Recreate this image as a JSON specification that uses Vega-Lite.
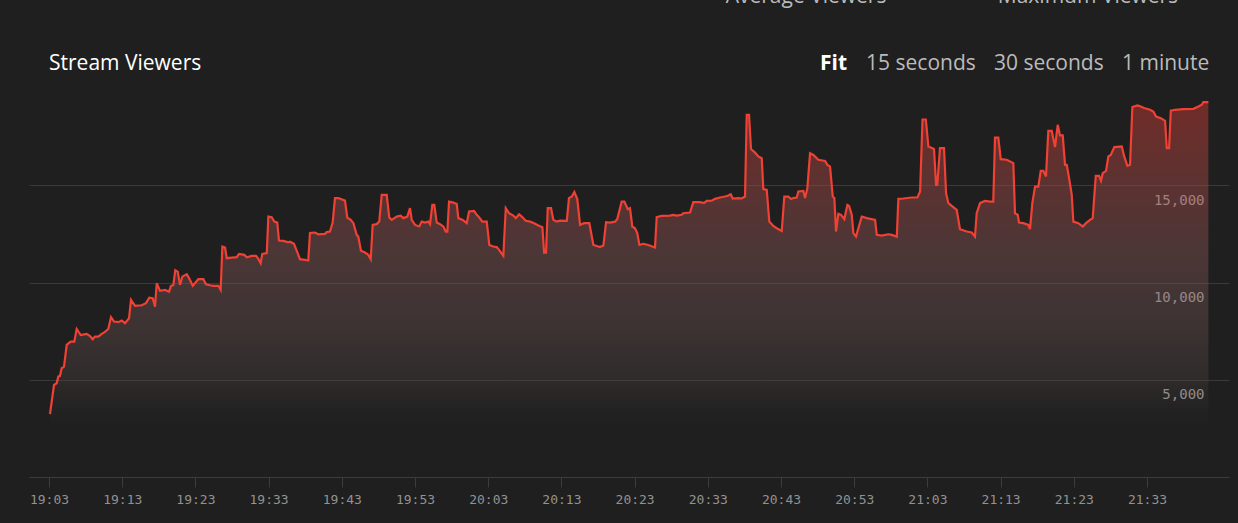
{
  "$schema": "https://vega.github.io/schema/vega-lite/v6.json",
  "width": 1200,
  "height": 389,
  "autosize": {"type": "none"},
  "padding": {"left": 29, "top": 88, "right": 9, "bottom": 46},
  "background": "#1f1f1f",
  "config": {"view": {"stroke": null}},
  "data": {
    "format": {"parse": {"t": "date:'%H:%M:%S'"}},
    "values": [
      {"t":"19:03:08","v":3230},{"t":"19:03:41","v":4730},{"t":"19:04:03","v":4820},{"t":"19:04:16","v":5160},{"t":"19:04:30","v":5200},{"t":"19:04:44","v":5590},{"t":"19:05:03","v":5670},{"t":"19:05:25","v":6790},{"t":"19:05:58","v":6960},{"t":"19:06:27","v":6960},
      {"t":"19:06:47","v":7610},{"t":"19:07:20","v":7300},{"t":"19:08:09","v":7360},{"t":"19:08:36","v":7250},{"t":"19:08:58","v":7080},{"t":"19:09:17","v":7220},{"t":"19:09:44","v":7220},{"t":"19:10:12","v":7360},{"t":"19:10:39","v":7460},{"t":"19:11:06","v":7610},
      {"t":"19:11:28","v":8220},{"t":"19:11:53","v":7990},{"t":"19:12:28","v":7960},{"t":"19:12:56","v":8040},{"t":"19:13:23","v":7910},{"t":"19:13:56","v":8160},{"t":"19:14:12","v":9110},{"t":"19:14:45","v":8800},{"t":"19:15:40","v":8830},{"t":"19:16:15","v":8940},
      {"t":"19:16:42","v":9220},{"t":"19:17:10","v":9190},{"t":"19:17:29","v":8760},{"t":"19:17:43","v":9960},{"t":"19:18:10","v":9570},{"t":"19:18:51","v":9620},{"t":"19:19:24","v":9530},{"t":"19:19:40","v":9830},{"t":"19:19:59","v":9860},{"t":"19:20:15","v":10630},
      {"t":"19:20:35","v":10560},{"t":"19:20:54","v":9880},{"t":"19:21:13","v":10300},{"t":"19:21:49","v":10430},{"t":"19:22:10","v":10200},{"t":"19:22:38","v":9830},{"t":"19:22:59","v":9990},{"t":"19:23:24","v":10170},{"t":"19:24:05","v":10170},{"t":"19:24:27","v":9910},
      {"t":"19:25:00","v":9860},{"t":"19:25:27","v":9830},{"t":"19:26:08","v":9830},{"t":"19:26:27","v":9620},{"t":"19:26:41","v":11850},{"t":"19:27:03","v":11800},{"t":"19:27:17","v":11250},{"t":"19:27:58","v":11280},{"t":"19:28:39","v":11300},{"t":"19:28:57","v":11470},
      {"t":"19:29:41","v":11420},{"t":"19:30:01","v":11300},{"t":"19:30:42","v":11370},{"t":"19:31:17","v":11370},{"t":"19:31:36","v":11210},{"t":"19:31:55","v":10990},{"t":"19:32:08","v":11470},{"t":"19:32:45","v":11510},{"t":"19:32:58","v":13390},{"t":"19:33:25","v":13360},
      {"t":"19:33:47","v":13130},{"t":"19:34:11","v":13080},{"t":"19:34:25","v":12160},{"t":"19:35:01","v":12140},{"t":"19:35:42","v":12070},{"t":"19:35:55","v":12100},{"t":"19:36:28","v":11990},{"t":"19:36:50","v":11640},{"t":"19:37:17","v":11200},{"t":"19:37:58","v":11160},
      {"t":"19:38:25","v":11130},{"t":"19:38:39","v":12540},{"t":"19:39:20","v":12570},{"t":"19:39:47","v":12480},{"t":"19:40:42","v":12500},{"t":"19:40:56","v":12590},{"t":"19:41:23","v":12620},{"t":"19:41:45","v":13080},{"t":"19:42:04","v":14340},{"t":"19:42:31","v":14340},
      {"t":"19:43:26","v":14210},{"t":"19:43:45","v":13340},{"t":"19:44:13","v":13220},{"t":"19:44:35","v":13050},{"t":"19:45:02","v":12450},{"t":"19:45:15","v":12360},{"t":"19:45:37","v":11630},{"t":"19:46:10","v":11540},{"t":"19:46:37","v":11420},{"t":"19:46:57","v":11200},
      {"t":"19:47:13","v":12960},{"t":"19:47:46","v":13000},{"t":"19:48:07","v":13130},{"t":"19:48:27","v":14510},{"t":"19:49:08","v":14510},{"t":"19:49:29","v":13340},{"t":"19:49:49","v":13220},{"t":"19:50:30","v":13390},{"t":"19:51:03","v":13430},{"t":"19:51:24","v":13310},
      {"t":"19:51:57","v":13390},{"t":"19:52:19","v":13820},{"t":"19:52:33","v":13220},{"t":"19:53:00","v":12960},{"t":"19:53:35","v":12880},{"t":"19:53:55","v":13130},{"t":"19:54:22","v":13080},{"t":"19:54:49","v":13130},{"t":"19:55:03","v":13000},{"t":"19:55:22","v":13990},
      {"t":"19:55:38","v":13990},{"t":"19:55:58","v":13080},{"t":"19:56:25","v":13000},{"t":"19:56:52","v":12880},{"t":"19:57:12","v":12620},{"t":"19:57:25","v":12620},{"t":"19:57:39","v":14160},{"t":"19:58:14","v":14110},{"t":"19:58:42","v":14030},{"t":"19:58:55","v":13310},
      {"t":"19:59:31","v":13220},{"t":"20:00:04","v":13050},{"t":"20:00:23","v":13650},{"t":"20:01:04","v":13680},{"t":"20:01:26","v":13480},{"t":"20:01:47","v":13340},{"t":"20:02:12","v":13130},{"t":"20:02:48","v":13130},{"t":"20:03:09","v":11930},{"t":"20:03:42","v":11850},
      {"t":"20:04:10","v":11820},{"t":"20:04:29","v":11680},{"t":"20:05:04","v":11370},{"t":"20:05:24","v":13820},{"t":"20:05:51","v":13560},{"t":"20:06:26","v":13440},{"t":"20:06:46","v":13310},{"t":"20:07:13","v":13510},{"t":"20:07:35","v":13390},{"t":"20:08:08","v":13170},
      {"t":"20:08:43","v":13130},{"t":"20:09:16","v":13050},{"t":"20:09:51","v":12930},{"t":"20:10:24","v":12840},{"t":"20:10:38","v":11540},{"t":"20:10:54","v":11540},{"t":"20:11:08","v":13820},{"t":"20:11:35","v":13820},{"t":"20:11:54","v":13220},{"t":"20:12:22","v":13130},
      {"t":"20:12:49","v":13180},{"t":"20:13:44","v":13170},{"t":"20:14:02","v":14340},{"t":"20:14:25","v":14420},{"t":"20:14:46","v":14650},{"t":"20:15:10","v":14290},{"t":"20:15:33","v":12960},{"t":"20:16:05","v":13050},{"t":"20:16:49","v":13050},{"t":"20:17:22","v":11930},
      {"t":"20:17:49","v":11880},{"t":"20:18:16","v":11820},{"t":"20:18:44","v":11900},{"t":"20:19:06","v":13100},{"t":"20:19:39","v":13080},{"t":"20:20:20","v":13130},{"t":"20:20:38","v":13260},{"t":"20:21:14","v":14160},{"t":"20:21:36","v":14160},{"t":"20:22:04","v":13770},
      {"t":"20:22:22","v":13820},{"t":"20:22:41","v":12880},{"t":"20:23:03","v":12790},{"t":"20:23:22","v":12540},{"t":"20:23:39","v":11930},{"t":"20:24:11","v":11990},{"t":"20:24:52","v":11930},{"t":"20:25:47","v":11800},{"t":"20:26:01","v":13360},{"t":"20:26:42","v":13430},
      {"t":"20:27:50","v":13440},{"t":"20:28:17","v":13480},{"t":"20:28:45","v":13440},{"t":"20:29:26","v":13480},{"t":"20:29:39","v":13560},{"t":"20:30:34","v":13600},{"t":"20:31:01","v":14130},{"t":"20:31:56","v":14130},{"t":"20:32:29","v":14080},{"t":"20:32:51","v":14200},
      {"t":"20:33:32","v":14210},{"t":"20:33:59","v":14300},{"t":"20:34:40","v":14370},{"t":"20:35:21","v":14420},{"t":"20:35:48","v":14470},{"t":"20:36:08","v":14540},{"t":"20:36:24","v":14320},{"t":"20:37:10","v":14340},{"t":"20:37:38","v":14320},{"t":"20:38:05","v":14420},
      {"t":"20:38:19","v":18620},{"t":"20:38:38","v":18620},{"t":"20:38:54","v":16860},{"t":"20:39:27","v":16680},{"t":"20:39:54","v":16480},{"t":"20:40:22","v":16390},{"t":"20:40:35","v":14800},{"t":"20:41:03","v":14760},{"t":"20:41:24","v":13130},{"t":"20:41:57","v":12910},
      {"t":"20:42:25","v":12790},{"t":"20:43:06","v":12650},{"t":"20:43:27","v":14420},{"t":"20:44:00","v":14420},{"t":"20:44:22","v":14290},{"t":"20:44:41","v":14340},{"t":"20:45:09","v":14370},{"t":"20:45:22","v":14680},{"t":"20:46:03","v":14710},{"t":"20:46:17","v":14340},
      {"t":"20:46:36","v":14850},{"t":"20:46:58","v":16650},{"t":"20:47:25","v":16560},{"t":"20:48:06","v":16310},{"t":"20:49:01","v":16250},{"t":"20:49:20","v":16050},{"t":"20:49:42","v":15960},{"t":"20:50:04","v":14420},{"t":"20:50:17","v":14340},{"t":"20:50:31","v":12620},
      {"t":"20:50:50","v":13530},{"t":"20:51:12","v":13480},{"t":"20:51:39","v":13260},{"t":"20:52:04","v":13990},{"t":"20:52:18","v":13940},{"t":"20:52:40","v":13480},{"t":"20:52:53","v":12540},{"t":"20:53:15","v":12360},{"t":"20:53:34","v":12790},{"t":"20:54:02","v":13390},
      {"t":"20:54:43","v":13310},{"t":"20:55:51","v":13220},{"t":"20:56:05","v":12450},{"t":"20:56:46","v":12410},{"t":"20:57:40","v":12480},{"t":"20:58:08","v":12450},{"t":"20:58:49","v":12360},{"t":"20:59:02","v":14300},{"t":"20:59:43","v":14320},{"t":"21:00:52","v":14370},
      {"t":"21:01:38","v":14370},{"t":"21:02:00","v":14680},{"t":"21:02:20","v":18380},{"t":"21:02:47","v":18380},{"t":"21:03:08","v":16990},{"t":"21:03:54","v":16870},{"t":"21:04:11","v":15020},{"t":"21:04:21","v":15020},{"t":"21:04:43","v":16910},{"t":"21:05:16","v":16910},
      {"t":"21:05:33","v":14590},{"t":"21:05:52","v":14080},{"t":"21:06:19","v":13940},{"t":"21:07:00","v":13730},{"t":"21:07:27","v":12740},{"t":"21:08:22","v":12620},{"t":"21:09:03","v":12570},{"t":"21:09:30","v":12360},{"t":"21:09:44","v":13560},{"t":"21:10:11","v":14080},
      {"t":"21:10:52","v":14200},{"t":"21:11:33","v":14160},{"t":"21:12:00","v":14160},{"t":"21:12:14","v":17450},{"t":"21:12:41","v":17450},{"t":"21:13:01","v":16340},{"t":"21:13:50","v":16310},{"t":"21:14:44","v":16140},{"t":"21:14:58","v":13560},{"t":"21:15:20","v":13480},
      {"t":"21:15:31","v":13080},{"t":"21:16:06","v":13050},{"t":"21:16:47","v":12960},{"t":"21:17:01","v":12740},{"t":"21:17:20","v":14080},{"t":"21:17:42","v":14930},{"t":"21:18:09","v":14930},{"t":"21:18:29","v":15740},{"t":"21:18:50","v":15740},{"t":"21:19:12","v":15450},
      {"t":"21:19:31","v":17800},{"t":"21:19:59","v":17800},{"t":"21:20:26","v":16960},{"t":"21:20:48","v":18110},{"t":"21:21:07","v":17560},{"t":"21:21:29","v":17560},{"t":"21:21:48","v":16050},{"t":"21:22:02","v":16050},{"t":"21:22:21","v":15370},{"t":"21:22:43","v":14510},
      {"t":"21:22:56","v":13130},{"t":"21:23:37","v":13050},{"t":"21:24:13","v":12880},{"t":"21:24:40","v":13050},{"t":"21:25:13","v":13220},{"t":"21:25:35","v":13310},{"t":"21:26:00","v":15480},{"t":"21:26:27","v":15480},{"t":"21:26:43","v":15230},{"t":"21:26:57","v":15620},
      {"t":"21:27:24","v":15740},{"t":"21:27:43","v":16480},{"t":"21:28:03","v":16560},{"t":"21:28:32","v":16960},{"t":"21:29:33","v":16990},{"t":"21:29:52","v":16510},{"t":"21:30:19","v":16000},{"t":"21:30:41","v":16050},{"t":"21:31:00","v":19020},{"t":"21:31:41","v":19100},
      {"t":"21:32:09","v":19050},{"t":"21:32:36","v":18970},{"t":"21:33:25","v":18880},{"t":"21:33:52","v":18790},{"t":"21:34:14","v":18530},{"t":"21:34:53","v":18450},{"t":"21:35:28","v":18310},{"t":"21:35:42","v":16910},{"t":"21:36:01","v":16910},{"t":"21:36:15","v":18830},
      {"t":"21:36:50","v":18880},{"t":"21:37:58","v":18910},{"t":"21:39:20","v":18930},{"t":"21:40:01","v":19050},{"t":"21:40:29","v":19140},{"t":"21:40:42","v":19270},{"t":"21:41:23","v":19270}
    ]
  },
  "layer": [
    {
      "mark": {
        "type": "area",
        "interpolate": "linear",
        "fill": {
          "gradient": "linear", "x1": 0, "y1": 0, "x2": 0, "y2": 1,
          "stops": [
            {"offset": 0, "color": "rgba(205,58,50,0.47)"},
            {"offset": 0.4, "color": "rgba(144,89,89,0.4)"},
            {"offset": 0.6, "color": "rgba(117,88,88,0.35)"},
            {"offset": 0.74, "color": "rgba(88,71,71,0.3)"},
            {"offset": 0.89, "color": "rgba(40,40,40,0)"},
            {"offset": 1, "color": "rgba(40,40,40,0)"}
          ]
        }
      },
      "encoding": {
        "x": {
          "field": "t", "type": "temporal",
          "scale": {"domain": [
            {"year": 1900, "month": 1, "date": 1, "hours": 19, "minutes": 0, "seconds": 16},
            {"year": 1900, "month": 1, "date": 1, "hours": 21, "minutes": 44, "seconds": 12}
          ]},
          "axis": {
            "title": null, "format": "%H:%M", "grid": false,
            "values": [
              {"year": 1900, "month": 1, "date": 1, "hours": 19, "minutes": 3},
              {"year": 1900, "month": 1, "date": 1, "hours": 19, "minutes": 13},
              {"year": 1900, "month": 1, "date": 1, "hours": 19, "minutes": 23},
              {"year": 1900, "month": 1, "date": 1, "hours": 19, "minutes": 33},
              {"year": 1900, "month": 1, "date": 1, "hours": 19, "minutes": 43},
              {"year": 1900, "month": 1, "date": 1, "hours": 19, "minutes": 53},
              {"year": 1900, "month": 1, "date": 1, "hours": 20, "minutes": 3},
              {"year": 1900, "month": 1, "date": 1, "hours": 20, "minutes": 13},
              {"year": 1900, "month": 1, "date": 1, "hours": 20, "minutes": 23},
              {"year": 1900, "month": 1, "date": 1, "hours": 20, "minutes": 33},
              {"year": 1900, "month": 1, "date": 1, "hours": 20, "minutes": 43},
              {"year": 1900, "month": 1, "date": 1, "hours": 20, "minutes": 53},
              {"year": 1900, "month": 1, "date": 1, "hours": 21, "minutes": 3},
              {"year": 1900, "month": 1, "date": 1, "hours": 21, "minutes": 13},
              {"year": 1900, "month": 1, "date": 1, "hours": 21, "minutes": 23},
              {"year": 1900, "month": 1, "date": 1, "hours": 21, "minutes": 33}
            ],
            "labelFont": "DejaVu Sans Mono", "labelFontSize": 13, "labelColor": "#929292",
            "labelPadding": 6, "labelFlush": false, "labelOverlap": false,
            "tickColor": "#3c3c3c", "tickSize": 10, "tickWidth": 1,
            "domainColor": "#3c3c3c", "domainWidth": 1
          }
        },
        "y": {
          "field": "v", "type": "quantitative",
          "scale": {"domain": [0, 20000], "nice": false},
          "axis": {
            "title": null, "orient": "right", "values": [5000, 10000, 15000], "format": ",d",
            "grid": true, "gridColor": "#3a3a3a", "gridWidth": 1,
            "domain": false, "ticks": false, "tickSize": 0,
            "labelAlign": "right", "labelPadding": -25, "labelOffset": 15, "labelBaseline": "middle",
            "labelFont": "DejaVu Sans Mono", "labelFontSize": 14, "labelColor": "#a3a3a3"
          }
        }
      }
    },
    {
      "mark": {"type": "line", "color": "#ef4134", "strokeWidth": 2.2, "interpolate": "linear"},
      "encoding": {
        "x": {"field": "t", "type": "temporal"},
        "y": {"field": "v", "type": "quantitative"}
      }
    },
    {
      "data": {"values": [{}]},
      "mark": {"type": "text", "text": "Stream Viewers", "align": "left", "baseline": "middle", "font": "Open Sans", "fontSize": 21, "color": "#ffffff"},
      "encoding": {
        "x": {"datum": {"year": 1900, "month": 1, "date": 1, "hours": 19, "minutes": 3, "seconds": 0}, "type": "temporal"},
        "y": {"datum": 21230, "type": "quantitative"}
      }
    },
    {
      "data": {"values": [{}]},
      "mark": {"type": "text", "text": "Fit", "align": "left", "baseline": "middle", "font": "Open Sans", "fontSize": 21, "fontWeight": "bold", "color": "#ffffff"},
      "encoding": {
        "x": {"datum": {"year": 1900, "month": 1, "date": 1, "hours": 20, "minutes": 48, "seconds": 20}, "type": "temporal"},
        "y": {"datum": 21230, "type": "quantitative"}
      }
    },
    {
      "data": {"values": [{}]},
      "mark": {"type": "text", "text": "15 seconds", "align": "left", "baseline": "middle", "font": "Open Sans", "fontSize": 21, "color": "#bbbbbb"},
      "encoding": {
        "x": {"datum": {"year": 1900, "month": 1, "date": 1, "hours": 20, "minutes": 54, "seconds": 37}, "type": "temporal"},
        "y": {"datum": 21230, "type": "quantitative"}
      }
    },
    {
      "data": {"values": [{}]},
      "mark": {"type": "text", "text": "30 seconds", "align": "left", "baseline": "middle", "font": "Open Sans", "fontSize": 21, "color": "#bbbbbb"},
      "encoding": {
        "x": {"datum": {"year": 1900, "month": 1, "date": 1, "hours": 21, "minutes": 12, "seconds": 6}, "type": "temporal"},
        "y": {"datum": 21230, "type": "quantitative"}
      }
    },
    {
      "data": {"values": [{}]},
      "mark": {"type": "text", "text": "1 minute", "align": "left", "baseline": "middle", "font": "Open Sans", "fontSize": 21, "color": "#bbbbbb"},
      "encoding": {
        "x": {"datum": {"year": 1900, "month": 1, "date": 1, "hours": 21, "minutes": 29, "seconds": 35}, "type": "temporal"},
        "y": {"datum": 21230, "type": "quantitative"}
      }
    },
    {
      "data": {"values": [{}]},
      "mark": {"type": "text", "text": "Average Viewers", "align": "center", "baseline": "alphabetic", "font": "Open Sans", "fontSize": 21, "color": "#bbbbbb"},
      "encoding": {
        "x": {"datum": {"year": 1900, "month": 1, "date": 1, "hours": 20, "minutes": 46, "seconds": 25}, "type": "temporal"},
        "y": {"datum": 24380, "type": "quantitative"}
      }
    },
    {
      "data": {"values": [{}]},
      "mark": {"type": "text", "text": "Maximum Viewers", "align": "center", "baseline": "alphabetic", "font": "Open Sans", "fontSize": 21, "color": "#bbbbbb"},
      "encoding": {
        "x": {"datum": {"year": 1900, "month": 1, "date": 1, "hours": 21, "minutes": 24, "seconds": 56}, "type": "temporal"},
        "y": {"datum": 24380, "type": "quantitative"}
      }
    }
  ]
}
